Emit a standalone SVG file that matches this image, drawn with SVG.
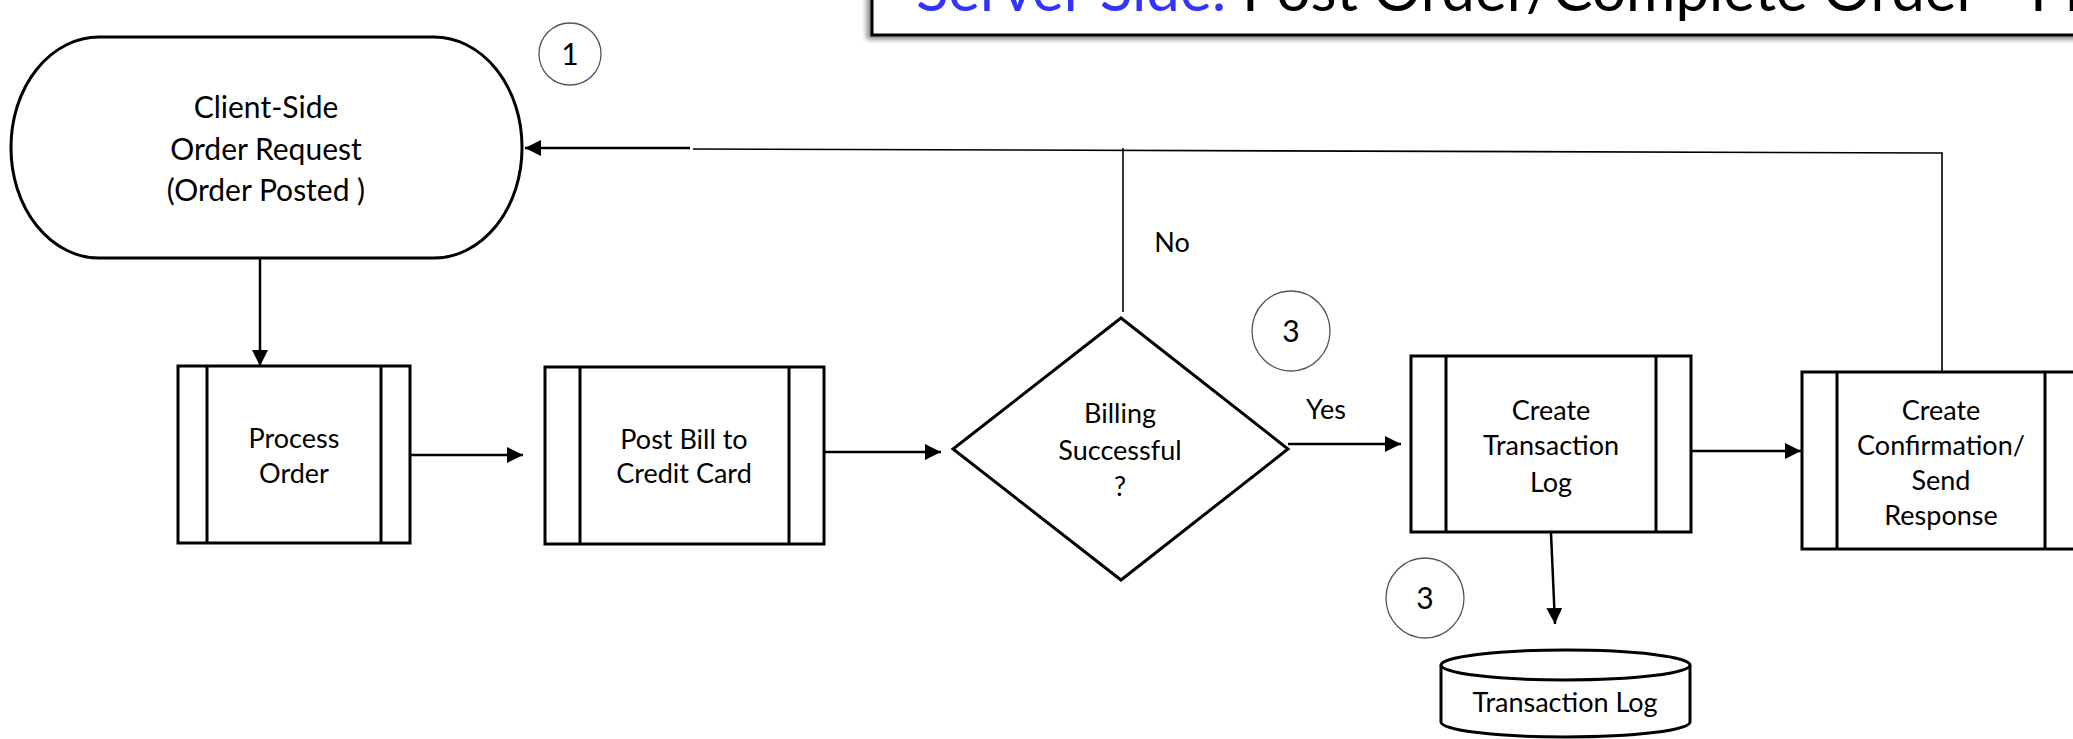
<svg xmlns="http://www.w3.org/2000/svg" width="2073" height="739" viewBox="0 0 2073 739">
  <style>
    .shape { fill: #ffffff; stroke: #000000; stroke-width: 3; }
    .bar { fill: none; stroke: #000000; stroke-width: 3; }
    .lbl { font-family: Lato, "Liberation Sans", sans-serif; font-size: 27px; fill: #000000; text-anchor: middle; }
    .big { font-size: 30px; }
    .mark { fill: #ffffff; stroke: #555555; stroke-width: 1.3; }
    .num { font-family: Lato, "Liberation Sans", sans-serif; font-size: 30px; fill: #000000; text-anchor: middle; }
    .edge { fill: none; stroke: #000000; stroke-width: 2.5; }
    .thin { fill: none; stroke: #000000; stroke-width: 1.6; }
    .title { font-family: Lato, "Liberation Sans", sans-serif; font-size: 60px; fill: #000000; }
  </style>
  <defs>
    <marker id="arrow" markerUnits="userSpaceOnUse" markerWidth="16" markerHeight="16" refX="16" refY="8" orient="auto">
      <path d="M0,0 L16,8 L0,16 Z" fill="#000000"/>
    </marker>
    <filter id="shadow" x="-5%" y="-50%" width="110%" height="200%">
      <feDropShadow dx="-4" dy="3" stdDeviation="2.5" flood-color="#000000" flood-opacity="0.45"/>
    </filter>
  </defs>

  <rect width="2073" height="739" fill="#ffffff"/>

  <!-- title banner, running off the top and right edges -->
  <g id="title">
    <rect x="872" y="-20" width="1240" height="55" fill="#ffffff" stroke="#000000" stroke-width="3" filter="url(#shadow)"/>
    <text class="title" x="916" y="11"><tspan fill="#3333ff">Server Side:</tspan> Post Order/Complete Order - Pro</text>
  </g>

  <!-- connectors -->
  <g id="connectors">
    <path class="edge" d="M260,258 V366" marker-end="url(#arrow)"/>
    <path class="edge" d="M410,455 H523" marker-end="url(#arrow)"/>
    <path class="edge" d="M824,452 H941" marker-end="url(#arrow)"/>
    <path class="edge" d="M1288,444 H1401" marker-end="url(#arrow)"/>
    <path class="edge" d="M1691,451 H1801" marker-end="url(#arrow)"/>
    <path class="edge" d="M1551,533 L1555,624" marker-end="url(#arrow)"/>
    <!-- "No" branch and response return path -->
    <path class="thin" d="M1123,312 V148"/>
    <path class="thin" d="M1942,372 V153 L693,149"/>
    <path class="edge" d="M690,148 H525" marker-end="url(#arrow)"/>
    <text class="lbl" x="1172" y="252">No</text>
    <text class="lbl" x="1326" y="419">Yes</text>
  </g>

  <g id="client-request">
    <rect class="shape" x="11" y="37" width="511" height="221" rx="88" ry="110"/>
    <text class="lbl big" x="266" y="118">Client-Side</text>
    <text class="lbl big" x="266" y="160">Order Request</text>
    <text class="lbl big" x="266" y="201">(Order Posted )</text>
  </g>

  <g id="step-1">
    <ellipse class="mark" cx="570" cy="54" rx="31" ry="31"/>
    <text class="num" x="570" y="65">1</text>
  </g>

  <g id="process-order">
    <rect class="shape" x="178" y="366" width="232" height="177"/>
    <path class="bar" d="M207,366 V543 M381,366 V543"/>
    <text class="lbl" x="294" y="448">Process</text>
    <text class="lbl" x="294" y="483">Order</text>
  </g>

  <g id="post-bill">
    <rect class="shape" x="545" y="367" width="279" height="177"/>
    <path class="bar" d="M580,367 V544 M789,367 V544"/>
    <text class="lbl" x="684" y="449">Post Bill to</text>
    <text class="lbl" x="684" y="483">Credit Card</text>
  </g>

  <g id="billing-decision">
    <polygon class="shape" points="1121,318 1288,449 1121,580 953,449"/>
    <text class="lbl" x="1120" y="423">Billing</text>
    <text class="lbl" x="1120" y="460">Successful</text>
    <text class="lbl" x="1120" y="496">?</text>
  </g>

  <g id="step-3-billing">
    <ellipse class="mark" cx="1291" cy="331" rx="39" ry="40"/>
    <text class="num" x="1291" y="342">3</text>
  </g>

  <g id="create-log">
    <rect class="shape" x="1411" y="356" width="280" height="176"/>
    <path class="bar" d="M1446,356 V532 M1656,356 V532"/>
    <text class="lbl" x="1551" y="420">Create</text>
    <text class="lbl" x="1551" y="455">Transaction</text>
    <text class="lbl" x="1551" y="492">Log</text>
  </g>

  <g id="create-confirmation">
    <rect class="shape" x="1802" y="372" width="300" height="177"/>
    <path class="bar" d="M1837,372 V549 M2045,372 V549"/>
    <text class="lbl" x="1941" y="420">Create</text>
    <text class="lbl" x="1941" y="455">Confirmation/</text>
    <text class="lbl" x="1941" y="490">Send</text>
    <text class="lbl" x="1941" y="525">Response</text>
  </g>

  <g id="step-3-log">
    <ellipse class="mark" cx="1425" cy="598" rx="39" ry="40"/>
    <text class="num" x="1425" y="609">3</text>
  </g>

  <g id="transaction-log">
    <path class="shape" d="M1441,665 A124.5,15 0 0 1 1690,665 V722 A124.5,15 0 0 1 1441,722 Z"/>
    <path class="bar" d="M1441,665 A124.5,15 0 0 0 1690,665"/>
    <text class="lbl" x="1565" y="712">Transaction Log</text>
  </g>
</svg>
